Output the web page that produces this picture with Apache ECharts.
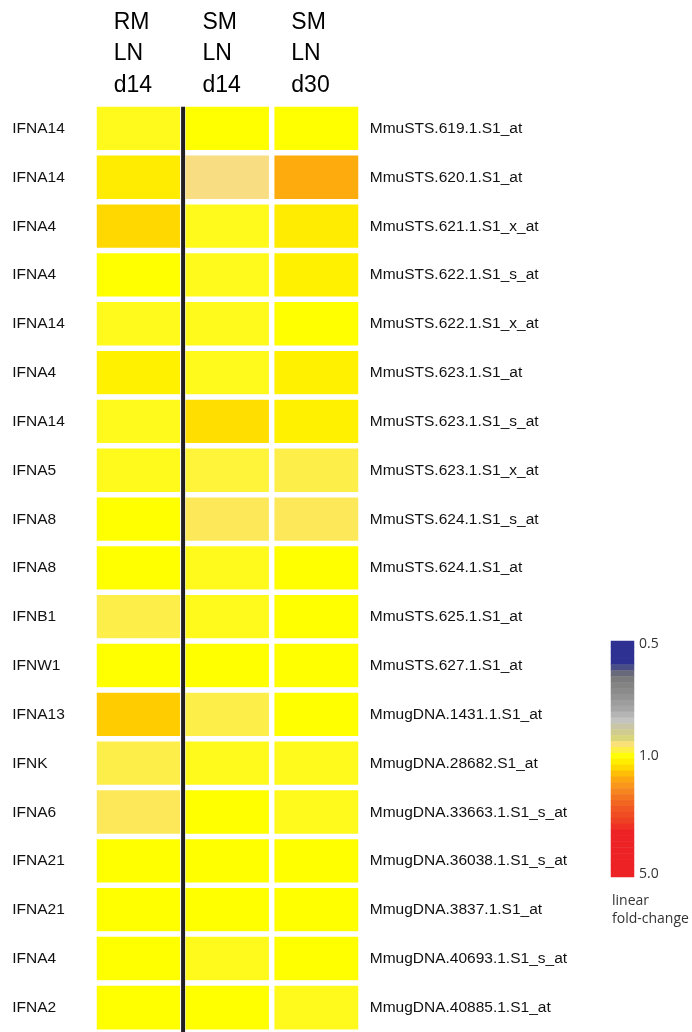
<!DOCTYPE html>
<html><head><meta charset="utf-8">
<script src="https://cdn.jsdelivr.net/npm/echarts@6/dist/echarts.min.js"></script>
<style>html,body{margin:0;padding:0;background:#fff}#c{width:692px;height:1032px}</style>
</head><body><div id="c"></div>
<script>
// ---- data ----
const conditions = ['RM\nLN\nd14', 'SM\nLN\nd14', 'SM\nLN\nd30'];
const genes = ['IFNA14','IFNA14','IFNA4','IFNA4','IFNA14','IFNA4','IFNA14','IFNA5','IFNA8','IFNA8','IFNB1','IFNW1','IFNA13','IFNK','IFNA6','IFNA21','IFNA21','IFNA4','IFNA2'];
const probes = ['MmuSTS.619.1.S1_at','MmuSTS.620.1.S1_at','MmuSTS.621.1.S1_x_at','MmuSTS.622.1.S1_s_at','MmuSTS.622.1.S1_x_at','MmuSTS.623.1.S1_at','MmuSTS.623.1.S1_s_at','MmuSTS.623.1.S1_x_at','MmuSTS.624.1.S1_s_at','MmuSTS.624.1.S1_at','MmuSTS.625.1.S1_at','MmuSTS.627.1.S1_at','MmugDNA.1431.1.S1_at','MmugDNA.28682.S1_at','MmugDNA.33663.1.S1_s_at','MmugDNA.36038.1.S1_s_at','MmugDNA.3837.1.S1_at','MmugDNA.40693.1.S1_s_at','MmugDNA.40885.1.S1_at'];
// linear fold-change per condition (row order as genes/probes)
const rmLnD14 = [0.99, 1.20, 1.38, 1.00, 0.99, 1.15, 0.99, 0.99, 1.00, 1.00, 0.97, 1.00, 1.47, 0.97, 0.96, 1.00, 1.00, 1.00, 1.00];
const smLnD14 = [1.00, 0.94, 0.99, 0.99, 0.99, 0.99, 1.33, 0.98, 0.96, 0.99, 0.99, 1.00, 0.97, 0.99, 1.00, 1.00, 1.00, 0.99, 1.00];
const smLnD30 = [1.00, 1.72, 1.20, 1.15, 1.00, 1.15, 1.15, 0.97, 0.96, 1.00, 1.00, 1.00, 1.00, 0.99, 0.99, 1.00, 1.00, 1.00, 0.99];
const legendTicks = [0.5, 1.0, 5.0];
const legendTickLabels = ['0.5', '1.0', '5.0'];
const legendTitle = 'linear\nfold-change';

// ---- colour scale (style) ----
const MID = 0.49;
function foldToPos(f) { return f <= 1 ? (f - 0.5) / 0.5 * MID : MID + (f - 1) / 4 * (1 - MID); }
const stops = [
  [0.00,'#2e3192'],[0.08,'#2e3192'],[0.10,'#474b88'],[0.13,'#6b6b7b'],[0.16,'#7f7f7f'],
  [0.22,'#8f8f8f'],[0.28,'#a5a5a5'],[0.33,'#c2c2c2'],[0.37,'#cac79c'],[0.41,'#d9d57a'],
  [0.43,'#f8dc86'],[0.45,'#fde85a'],[0.47,'#fff43a'],[0.49,'#ffff00'],[0.51,'#fff000'],
  [0.53,'#ffe000'],[0.55,'#ffcc00'],[0.58,'#fdac0c'],[0.62,'#f7941d'],[0.66,'#f47920'],
  [0.71,'#f15a22'],[0.77,'#ee4023'],[0.82,'#ed2224'],[1.00,'#ed2224']];
function hex2rgb(h){return [parseInt(h.substr(1,2),16),parseInt(h.substr(3,2),16),parseInt(h.substr(5,2),16)];}
function colorAt(t){
  for (let i = 1; i < stops.length; i++) {
    if (t <= stops[i][0]) {
      const a = stops[i-1], b = stops[i];
      const k = (t - a[0]) / (b[0] - a[0] || 1);
      const ca = hex2rgb(a[1]), cb = hex2rgb(b[1]);
      return 'rgb(' + ca.map((v, j) => Math.round(v + (cb[j] - v) * k)).join(',') + ')';
    }
  }
  return stops[stops.length-1][1];
}
const palette = [];
for (let i = 0; i <= 200; i++) palette.push(colorAt(i / 200));

// ---- build series data ----
const columns = [rmLnD14, smLnD14, smLnD30];
const cells = [];
columns.forEach((col, c) => col.forEach((v, r) => cells.push([c, r, foldToPos(v), v])));

const LEGEND_STEPS = 40;
const legendCats = [], legendCells = [];
for (let i = 0; i < LEGEND_STEPS; i++) { legendCats.push(String(i)); legendCells.push([0, i, i / (LEGEND_STEPS - 1)]); }
const legendLabelAt = {};
legendTicks.forEach((f, k) => { legendLabelAt[Math.round(foldToPos(f) * (LEGEND_STEPS - 1))] = legendTickLabels[k]; });

const FONT = '"Liberation Sans", Arial, sans-serif';
const chart = echarts.init(document.getElementById('c'), null, {renderer: 'canvas'});
chart.setOption({
  animation: false,
  backgroundColor: '#fff',
  title: {
    text: legendTitle, left: 607, top: 887,
    textStyle: {fontFamily: '"Open Sans", sans-serif', fontSize: 14, fontWeight: 'normal', color: '#333', lineHeight: 18}
  },
  grid: [
    {left: 94.25, top: 104.25, width: 266.5, height: 929},
    {left: 611, top: 641, width: 23, height: 236}
  ],
  xAxis: [
    {type: 'category', gridIndex: 0, position: 'top', data: conditions,
     axisLine: {show: false}, axisTick: {show: false}, splitLine: {show: false},
     axisLabel: {interval: 0, margin: 3, align: 'center', verticalAlign: 'bottom',
       formatter: v => v.split('\n').map(s => '{h|' + s + '}').join('\n'),
       rich: {h: {width: 50, align: 'left', fontSize: 23, lineHeight: 31.5, fontFamily: FONT, color: '#000'}}}},
    {type: 'value', gridIndex: 0, min: 0, max: 3, show: false},
    {type: 'category', gridIndex: 1, data: ['scale'], show: false}
  ],
  yAxis: [
    {type: 'category', gridIndex: 0, position: 'left', inverse: true, data: genes,
     axisLine: {show: false}, axisTick: {show: false}, splitLine: {show: false},
     axisLabel: {interval: 0, margin: 82, align: 'left', fontSize: 15.5, fontFamily: FONT, color: '#111', padding: [0, 0, 6, 0]}},
    {type: 'category', gridIndex: 0, position: 'right', inverse: true, data: probes,
     axisLine: {show: false}, axisTick: {show: false}, splitLine: {show: false},
     axisLabel: {interval: 0, margin: 9, align: 'left', fontSize: 15.5, fontFamily: FONT, color: '#111', padding: [0, 0, 6, 0]}},
    {type: 'value', gridIndex: 0, min: 0, max: 19, inverse: true, show: false},
    {type: 'category', gridIndex: 1, position: 'right', inverse: true, data: legendCats,
     axisLine: {show: false}, axisTick: {show: false}, splitLine: {show: false},
     axisLabel: {interval: i => legendLabelAt[i] !== undefined, margin: 5, align: 'left',
       formatter: (v, i) => legendLabelAt[i] || '',
       fontSize: 14, fontFamily: '"Open Sans", sans-serif', color: '#333'}}
  ],
  visualMap: {
    type: 'continuous', show: false, min: 0, max: 1, dimension: 2, seriesIndex: [0, 2],
    inRange: {color: palette}
  },
  series: [
    {type: 'heatmap', xAxisIndex: 0, yAxisIndex: 0, data: cells,
     itemStyle: {borderColor: '#ffffff', borderWidth: 5.5}, emphasis: {disabled: true}},
    {type: 'line', xAxisIndex: 1, yAxisIndex: 2, data: [[1, 0.05], [1, 19]],
     symbol: 'none', lineStyle: {color: '#231f20', width: 4}, z: 5, silent: true},
    {type: 'heatmap', xAxisIndex: 2, yAxisIndex: 3, data: legendCells, emphasis: {disabled: true}}
  ]
});
</script>
</body></html>
